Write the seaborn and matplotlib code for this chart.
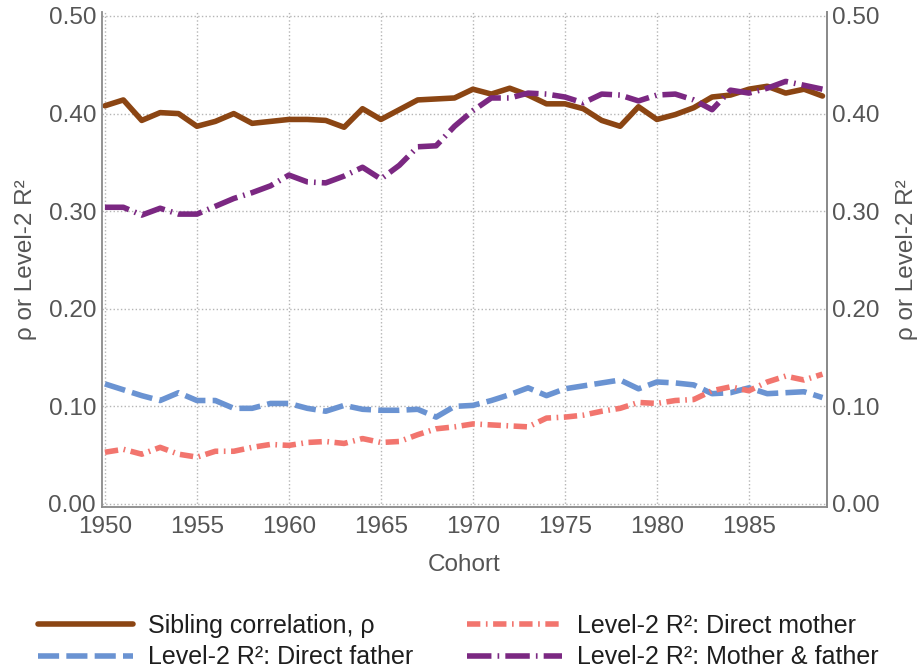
import numpy as np
import pandas as pd
import matplotlib
matplotlib.use("Agg")
import matplotlib.pyplot as plt
import seaborn as sns

# cohorts 1950-1989
cohort = list(range(1950, 1990))

sibling_rho = [0.408, 0.414, 0.393, 0.401, 0.400, 0.387, 0.392, 0.400, 0.390, 0.392,
               0.394, 0.394, 0.393, 0.386, 0.405, 0.394, 0.404, 0.414, 0.415, 0.416,
               0.425, 0.420, 0.426, 0.419, 0.410, 0.410, 0.405, 0.393, 0.387, 0.407,
               0.394, 0.399, 0.406, 0.417, 0.419, 0.425, 0.428, 0.421, 0.425, 0.418]

direct_father = [0.123, 0.117, 0.111, 0.106, 0.114, 0.106, 0.106, 0.098, 0.098, 0.103,
                 0.103, 0.098, 0.095, 0.101, 0.097, 0.096, 0.096, 0.097, 0.089, 0.100,
                 0.101, 0.106, 0.112, 0.119, 0.111, 0.118, 0.121, 0.124, 0.127, 0.118,
                 0.125, 0.124, 0.122, 0.113, 0.114, 0.119, 0.113, 0.114, 0.115, 0.109]

direct_mother = [0.053, 0.056, 0.051, 0.058, 0.051, 0.048, 0.054, 0.054, 0.058, 0.061,
                 0.060, 0.063, 0.064, 0.062, 0.067, 0.063, 0.064, 0.071, 0.077, 0.079,
                 0.082, 0.081, 0.080, 0.079, 0.088, 0.089, 0.091, 0.095, 0.098, 0.104,
                 0.103, 0.106, 0.107, 0.116, 0.120, 0.116, 0.125, 0.131, 0.127, 0.133]

mother_father = [0.304, 0.304, 0.296, 0.303, 0.297, 0.297, 0.305, 0.313, 0.319, 0.326,
                 0.337, 0.330, 0.329, 0.336, 0.345, 0.333, 0.347, 0.366, 0.367, 0.387,
                 0.403, 0.416, 0.416, 0.421, 0.420, 0.417, 0.411, 0.420, 0.419, 0.413,
                 0.419, 0.420, 0.414, 0.404, 0.424, 0.421, 0.426, 0.433, 0.429, 0.425]

labels = ["Sibling correlation, \u03c1",
          "Level-2 R\u00b2: Direct father",
          "Level-2 R\u00b2: Direct mother",
          "Level-2 R\u00b2: Mother & father"]
colors = ["#8B4513", "#6A93D2", "#F2756E", "#7B2882"]
styles = ["-", (0, (3.8, 1.3)), (0, (2.4, 1.0, 0.3, 1.0)), (0, (4.4, 1.1, 0.3, 1.1))]
yticks = [0.0, 0.1, 0.2, 0.3, 0.4, 0.5]
xticks = [1950, 1955, 1960, 1965, 1970, 1975, 1980, 1985]

df = pd.DataFrame({
    "Cohort": cohort,
    labels[0]: sibling_rho,
    labels[1]: direct_father,
    labels[2]: direct_mother,
    labels[3]: mother_father,
})

sns.set_theme(style="white")
plt.rcParams['font.family'] = ['Liberation Sans', 'DejaVu Sans']

fig = plt.figure(figsize=(9.24, 6.72), dpi=100)
ax = fig.add_axes([0.110, 0.246, 0.7845, 0.736])

for lab, col, ls in zip(labels, colors, styles):
    sns.lineplot(data=df, x="Cohort", y=lab, ax=ax, color=col, linewidth=4.0,
                 linestyle=ls, label=lab, legend=False)

ax.set_xlim(1949.82, 1989.22)
ax.set_ylim(-0.0028, 0.504)
ax.set_xticks(xticks)
ax.set_yticks(yticks)
ax.set_yticklabels([f"{v:.2f}" for v in yticks])
ax.grid(True, linestyle=":", color="#b5b5b5", linewidth=1.0)
ax.set_axisbelow(True)

gray = "#555555"
fs = 17.5
ax.tick_params(axis="x", labelsize=fs, colors=gray, length=0, pad=7)
ax.tick_params(axis="y", labelsize=fs, colors=gray, length=0, pad=4)
ax.set_xlabel("Cohort", fontsize=fs, color=gray, labelpad=11)
ax.set_ylabel("\u03c1 or Level-2 R\u00b2", fontsize=fs, color=gray, labelpad=8)

for s in ["left", "bottom", "right"]:
    ax.spines[s].set_color("#8a8a8a")
    ax.spines[s].set_linewidth(1.3)
ax.spines["top"].set_visible(False)

ax2 = ax.twinx()
ax2.set_ylim(ax.get_ylim())
ax2.set_yticks(yticks)
ax2.set_yticklabels([f"{v:.2f}" for v in yticks])
ax2.tick_params(axis="y", labelsize=fs, colors=gray, length=0, pad=4)
ax2.set_ylabel("\u03c1 or Level-2 R\u00b2", fontsize=fs, color=gray, rotation=90, labelpad=12)
for s in ["left", "bottom", "top"]:
    ax2.spines[s].set_visible(False)
ax2.spines["right"].set_color("#8a8a8a")
ax2.spines["right"].set_linewidth(1.3)

handles, labs = ax.get_legend_handles_labels()
fig.legend(handles, labs, loc="lower left", bbox_to_anchor=(0.041, 0.004), ncol=2,
           frameon=False, fontsize=18, handlelength=3.8, columnspacing=2.15,
           labelspacing=0.3, handletextpad=0.6, borderpad=0, borderaxespad=0,
           labelcolor="#1e1e1e")

fig.savefig("out.png", dpi=100, facecolor="white")
